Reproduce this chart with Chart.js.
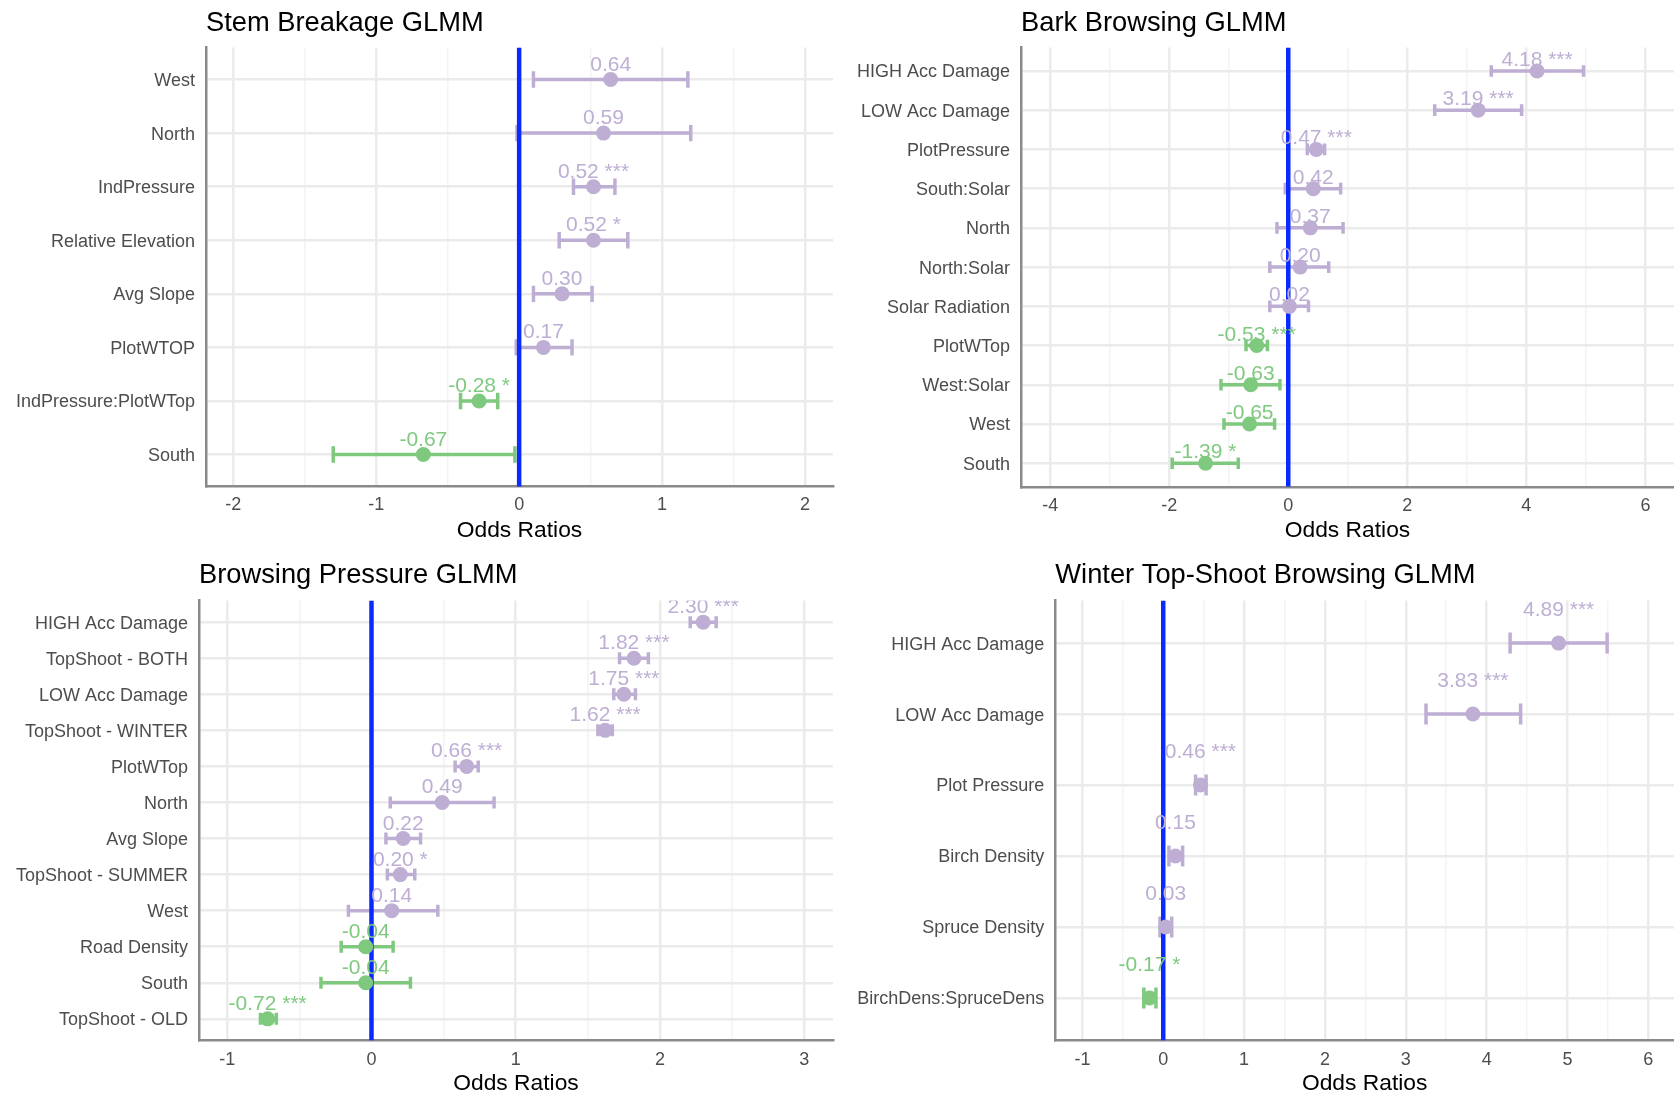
<!DOCTYPE html>
<html lang="en">
<head>
<meta charset="utf-8">
<title>GLMM Odds Ratios</title>
<script src="https://cdn.jsdelivr.net/npm/chart.js@4.4.1/dist/chart.umd.min.js"></script>
<style>
    html, body { margin: 0; padding: 0; background: #fff; }
    body { width: 1674px; height: 1096px; position: relative; overflow: hidden; }
    canvas { position: absolute; }
</style>
</head>
<body>
<canvas id="GraficoQuebra" width="837" height="548" style="left:0;top:0"></canvas>
<canvas id="GraficoCasca" width="837" height="548" style="left:837px;top:0"></canvas>
<canvas id="GraficoPressao" width="837" height="548" style="left:0;top:548px"></canvas>
<canvas id="GraficoInverno" width="837" height="548" style="left:837px;top:548px"></canvas>
<script>
// Stem Breakage GLMM
const quebraCategorias = ['West', 'North', 'IndPressure', 'Relative Elevation', 'Avg Slope', 'PlotWTOP', 'IndPressure:PlotWTop', 'South'];
const quebraEstimativas = [0.64, 0.59, 0.52, 0.52, 0.30, 0.17, -0.28, -0.67];
const quebraInferior = [0.10, -0.015, 0.38, 0.28, 0.10, -0.02, -0.41, -1.30];
const quebraSuperior = [1.18, 1.20, 0.67, 0.76, 0.51, 0.37, -0.15, -0.03];
const quebraSignif = ['', '', '***', '*', '', '', '*', ''];
const quebraTicksX = [-2, -1, 0, 1, 2];

// Bark Browsing GLMM
const cascaCategorias = ['HIGH Acc Damage', 'LOW Acc Damage', 'PlotPressure', 'South:Solar', 'North', 'North:Solar', 'Solar Radiation', 'PlotWTop', 'West:Solar', 'West', 'South'];
const cascaEstimativas = [4.18, 3.19, 0.47, 0.42, 0.37, 0.20, 0.02, -0.53, -0.63, -0.65, -1.39];
const cascaInferior = [3.41, 2.46, 0.32, -0.05, -0.19, -0.31, -0.31, -0.71, -1.13, -1.08, -1.95];
const cascaSuperior = [4.96, 3.92, 0.61, 0.88, 0.92, 0.68, 0.34, -0.35, -0.14, -0.23, -0.84];
const cascaSignif = ['***', '***', '***', '', '', '', '', '***', '', '', '*'];
const cascaTicksX = [-4, -2, 0, 2, 4, 6];

// Browsing Pressure GLMM
const pressaoCategorias = ['HIGH Acc Damage', 'TopShoot - BOTH', 'LOW Acc Damage', 'TopShoot - WINTER', 'PlotWTop', 'North', 'Avg Slope', 'TopShoot - SUMMER', 'West', 'Road Density', 'South', 'TopShoot - OLD'];
const pressaoEstimativas = [2.30, 1.82, 1.75, 1.62, 0.66, 0.49, 0.22, 0.20, 0.14, -0.04, -0.04, -0.72];
const pressaoInferior = [2.21, 1.72, 1.68, 1.57, 0.58, 0.13, 0.10, 0.11, -0.16, -0.21, -0.35, -0.77];
const pressaoSuperior = [2.39, 1.92, 1.83, 1.67, 0.74, 0.85, 0.34, 0.30, 0.46, 0.15, 0.27, -0.66];
const pressaoSignif = ['***', '***', '***', '***', '***', '', '', '*', '', '', '', '***'];
const pressaoTicksX = [-1, 0, 1, 2, 3];

// Winter Top-Shoot Browsing GLMM
const invernoCategorias = ['HIGH Acc Damage', 'LOW Acc Damage', 'Plot Pressure', 'Birch Density', 'Spruce Density', 'BirchDens:SpruceDens'];
const invernoEstimativas = [4.89, 3.83, 0.46, 0.15, 0.03, -0.17];
const invernoInferior = [4.29, 3.25, 0.40, 0.07, -0.04, -0.24];
const invernoSuperior = [5.49, 4.42, 0.53, 0.24, 0.105, -0.09];
const invernoSignif = ['***', '***', '***', '', '', '*'];
const invernoTicksX = [-1, 0, 1, 2, 3, 4, 5, 6];

const ROXO = '#BEAED4';
const VERDE = '#7FC97F';
const AZUL = '#0a2bff';
const FONTE = "'Liberation Sans', Arial, Helvetica, sans-serif";

Chart.defaults.font.family = FONTE;
Chart.defaults.animation = false;

// Variáveis globais para os gráficos
let graficos = {};

// Plugin para o título do painel e os rótulos dos valores
const pluginTextos = {
    id: 'textosPainel',
    afterDatasetsDraw(chart, args, opts) {
        const ctx = chart.ctx;
        const area = chart.chartArea;
        const meta = chart.getDatasetMeta(0);
        ctx.save();
        ctx.beginPath();
        ctx.rect(area.left, area.top, area.right - area.left, area.bottom - area.top);
        ctx.clip(); // rótulos cortados no painel, como no original
        ctx.font = `21px ${FONTE}`;
        ctx.textAlign = 'center';
        ctx.textBaseline = 'alphabetic';
        meta.data.forEach((ponto, i) => {
            ctx.fillStyle = opts.cores[i];
            ctx.fillText(opts.rotulos[i], ponto.x, ponto.y - opts.deslocamento);
        });
        ctx.restore();
    },
    afterDraw(chart, args, opts) {
        const ctx = chart.ctx;
        ctx.save();
        ctx.font = `27.3px ${FONTE}`;
        ctx.fillStyle = '#000';
        ctx.textAlign = 'left';
        ctx.textBaseline = 'middle';
        ctx.fillText(opts.titulo, chart.chartArea.left, opts.tituloY);
        ctx.restore();
    }
};

// Função genérica para criar um painel de odds ratios
function criarGrafico(ctxId, painel, layout) {
    if (graficos[ctxId]) graficos[ctxId].destroy();
    const n = painel.categorias.length;
    const cores = painel.estimativas.map(v => (v > 0 ? ROXO : VERDE));

    const pontos = painel.estimativas.map((v, i) => ({ x: v, y: i }));
    const bigodes = [];
    painel.inferior.forEach((lo, i) => {
        bigodes.push({ x: lo, y: i }, { x: painel.superior[i], y: i }, { x: null, y: i });
    });
    const tampas = painel.inferior.map((lo, i) => ({ x: lo, y: i }))
        .concat(painel.superior.map((hi, i) => ({ x: hi, y: i })));
    const rotulos = painel.estimativas.map((v, i) => v.toFixed(2) + (painel.signif[i] ? ' ' + painel.signif[i] : ''));

    const dados = {
        datasets: [
            {
                type: 'scatter', data: pontos, order: 1,
                pointRadius: 7.5, pointBackgroundColor: cores, pointBorderWidth: 0
            },
            {
                type: 'line', data: [{ x: 0, y: -0.6 }, { x: 0, y: n - 0.4 }], order: 2,
                borderColor: AZUL, borderWidth: 4.5, pointRadius: 0
            },
            {
                type: 'scatter', data: tampas, order: 3,
                pointStyle: 'line', rotation: 90, pointRadius: layout.tampa,
                pointBorderColor: cores.concat(cores), pointBorderWidth: 3.5
            },
            {
                type: 'line', data: bigodes, order: 4, spanGaps: false,
                borderWidth: 3.5, borderCapStyle: 'butt', pointRadius: 0,
                segment: { borderColor: c => cores[Math.floor(c.p0DataIndex / 3)] }
            }
        ]
    };

    const ehMaior = v => painel.ticksX.includes(v);

    const opcoes = {
        responsive: false,
        events: [],
        layout: {
            autoPadding: false, // sem folga automática pelo raio dos pontos
            padding: { top: layout.topo, right: layout.direita, bottom: 0, left: 0 }
        },
        plugins: {
            legend: { display: false },
            tooltip: { enabled: false },
            textosPainel: { titulo: painel.titulo, tituloY: layout.tituloY, rotulos: rotulos, cores: cores, deslocamento: layout.deslocamento }
        },
        scales: {
            x: {
                type: 'linear', min: layout.xMin, max: layout.xMax,
                ticks: {
                    stepSize: layout.passo, autoSkip: false, includeBounds: false, maxRotation: 0,
                    padding: layout.padTick, color: '#4d4d4d', font: { size: 18 },
                    callback: v => (ehMaior(v) ? String(v) : '')
                },
                grid: {
                    drawTicks: false,
                    color: c => (ehMaior(c.tick.value) ? '#ebebeb' : '#f3f3f3'),
                    lineWidth: c => (ehMaior(c.tick.value) ? 2.5 : 1.5)
                },
                border: { display: true, color: '#8a8a8a', width: 2.5 },
                title: { display: true, text: 'Odds Ratios', color: '#000', font: { size: 22.8 }, padding: { top: 0, bottom: layout.padTitulo } },
                afterFit: s => {
                    s.height = layout.alturaX;
                    s.paddingLeft = 0;
                    s.paddingRight = 0;
                }
            },
            y: {
                type: 'linear', reverse: true, min: -0.6, max: n - 0.4,
                ticks: {
                    stepSize: 1, autoSkip: false, includeBounds: false,
                    padding: 11, labelOffset: 1.5, color: '#4d4d4d', font: { size: 18 },
                    callback: v => (painel.categorias[v] !== undefined ? painel.categorias[v] : '')
                },
                grid: { drawTicks: false, color: '#ebebeb', lineWidth: 2.5 },
                border: { display: true, color: '#8a8a8a', width: 2.5 },
                afterFit: s => {
                    s.width = layout.larguraY;
                    s.paddingTop = 0;
                    s.paddingBottom = 0;
                }
            }
        }
    };

    const ctx = document.getElementById(ctxId).getContext('2d');
    graficos[ctxId] = new Chart(ctx, { type: 'scatter', data: dados, options: opcoes, plugins: [pluginTextos] });
}

// Inicializar página
criarGrafico('GraficoQuebra', {
    titulo: 'Stem Breakage GLMM', categorias: quebraCategorias, estimativas: quebraEstimativas,
    inferior: quebraInferior, superior: quebraSuperior, signif: quebraSignif, ticksX: quebraTicksX
}, {
    larguraY: 206, topo: 47.4, direita: 4, alturaX: 61.3, xMin: -2.19, xMax: 2.195, passo: 0.5,
    tituloY: 23.5, deslocamento: 9, tampa: 8.2, padTick: 8, padTitulo: 3.7
});

criarGrafico('GraficoCasca', {
    titulo: 'Bark Browsing GLMM', categorias: cascaCategorias, estimativas: cascaEstimativas,
    inferior: cascaInferior, superior: cascaSuperior, signif: cascaSignif, ticksX: cascaTicksX
}, {
    larguraY: 184, topo: 47.4, direita: 0, alturaX: 61.2, xMin: -4.49, xMax: 6.48, passo: 1,
    tituloY: 23, deslocamento: 5, tampa: 5.8, padTick: 8, padTitulo: 3.7
});

criarGrafico('GraficoPressao', {
    titulo: 'Browsing Pressure GLMM', categorias: pressaoCategorias, estimativas: pressaoEstimativas,
    inferior: pressaoInferior, superior: pressaoSuperior, signif: pressaoSignif, ticksX: pressaoTicksX
}, {
    larguraY: 199, topo: 52.5, direita: 4, alturaX: 55.5, xMin: -1.196, xMax: 3.2, passo: 0.5,
    tituloY: 27.5, deslocamento: 9, tampa: 6, padTick: 9.1, padTitulo: -1.4
});

criarGrafico('GraficoInverno', {
    titulo: 'Winter Top-Shoot Browsing GLMM', categorias: invernoCategorias, estimativas: invernoEstimativas,
    inferior: invernoInferior, superior: invernoSuperior, signif: invernoSignif, ticksX: invernoTicksX
}, {
    larguraY: 218.3, topo: 52.5, direita: 0, alturaX: 55.5, xMin: -1.335, xMax: 6.317, passo: 0.5,
    tituloY: 27.5, deslocamento: 27, tampa: 10.5, padTick: 9.1, padTitulo: -1.4
});
</script>
</body>
</html>
